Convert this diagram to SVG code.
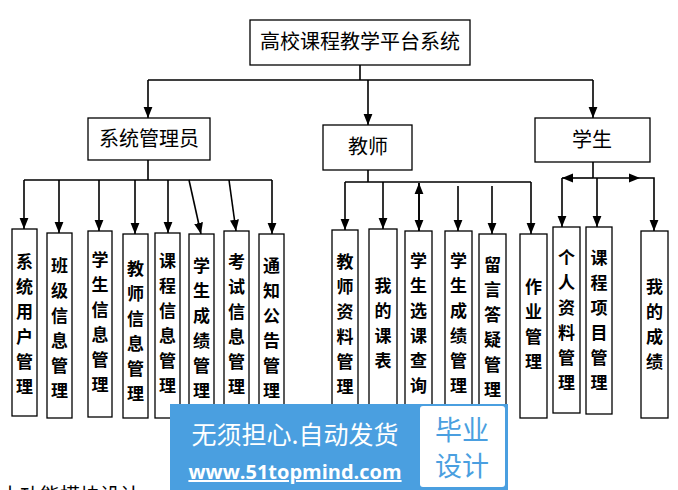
<svg xmlns="http://www.w3.org/2000/svg" width="678" height="490" viewBox="0 0 678 490">
<style>
.b{fill:#fff;stroke:#000;stroke-width:1.3}
.t{font-family:"Liberation Serif","Noto Sans CJK SC",serif;font-size:17px;font-weight:bold;text-anchor:middle;fill:#000}
.h{font-family:"Liberation Serif","Noto Sans CJK SC",serif;font-size:20px;text-anchor:middle;fill:#000}
.c{fill:none;stroke:#000;stroke-width:1.6}
</style>
<defs><marker id="a" viewBox="0 0 10 10" refX="10" refY="5" markerWidth="7" markerHeight="7" orient="auto"><path d="M0,1L10,5L0,9z" fill="#000"/></marker></defs>
<rect width="678" height="490" fill="#fff"/>
<g id="connectors">
<path class="c" d="M360 65V80M148 80H593"/>
<path class="c" d="M148 80V118" marker-end="url(#a)"/>
<path class="c" d="M368 80V125" marker-end="url(#a)"/>
<path class="c" d="M593 80V118" marker-end="url(#a)"/>
<path class="c" d="M148 160V180M24 180H272"/>
<path class="c" d="M24 180V229" marker-end="url(#a)"/>
<path class="c" d="M59 180V233" marker-end="url(#a)"/>
<path class="c" d="M99 180V231" marker-end="url(#a)"/>
<path class="c" d="M135 180V234" marker-end="url(#a)"/>
<path class="c" d="M168 180V233" marker-end="url(#a)"/>
<path class="c" d="M189 180L201 234" marker-end="url(#a)"/>
<path class="c" d="M229 180L236 231" marker-end="url(#a)"/>
<path class="c" d="M272 180V234" marker-end="url(#a)"/>
<path class="c" d="M368 170V182M345 182H531"/>
<path class="c" d="M345 182V230" marker-end="url(#a)"/>
<path class="c" d="M383 182V229" marker-end="url(#a)"/>
<path class="c" d="M419 231V183" marker-end="url(#a)"/>
<path class="c" d="M419 183V231" marker-end="url(#a)"/>
<path class="c" d="M458 186V231" marker-end="url(#a)"/>
<path class="c" d="M492 186V234" marker-end="url(#a)"/>
<path class="c" d="M531 182V234" marker-end="url(#a)"/>
<path class="c" d="M593 162V178"/>
<path class="c" d="M593 178H562" marker-end="url(#a)"/>
<path class="c" d="M593 178H640" marker-end="url(#a)"/>
<path class="c" d="M562 178V227" marker-end="url(#a)"/>
<path class="c" d="M597 178V227" marker-end="url(#a)"/>
<path class="c" d="M640 178H654V231" marker-end="url(#a)"/>
</g>
<g id="root"><rect class="b" x="250" y="20" width="220" height="45"/><text class="h" x="360" y="49">高校课程教学平台系统</text></g>
<g id="admin"><rect class="b" x="88" y="118" width="122" height="42"/><text class="h" x="149" y="146">系统管理员</text></g>
<g id="teacher"><rect class="b" x="323" y="125" width="89" height="45"/><text class="h" x="368" y="154">教师</text></g>
<g id="student"><rect class="b" x="535" y="118" width="115" height="44"/><text class="h" x="592" y="147">学生</text></g>
<g id="n1"><rect class="b" x="12" y="229" width="25" height="187"/><text class="t" x="24.5" y="268"><tspan x="24.5">系</tspan><tspan x="24.5" dy="25">统</tspan><tspan x="24.5" dy="25">用</tspan><tspan x="24.5" dy="25">户</tspan><tspan x="24.5" dy="25">管</tspan><tspan x="24.5" dy="25">理</tspan></text></g>
<g id="n2"><rect class="b" x="47" y="233" width="25" height="185"/><text class="t" x="59.5" y="272"><tspan x="59.5">班</tspan><tspan x="59.5" dy="25">级</tspan><tspan x="59.5" dy="25">信</tspan><tspan x="59.5" dy="25">息</tspan><tspan x="59.5" dy="25">管</tspan><tspan x="59.5" dy="25">理</tspan></text></g>
<g id="n3"><rect class="b" x="88" y="231" width="24" height="186"/><text class="t" x="100" y="266"><tspan x="100">学</tspan><tspan x="100" dy="25">生</tspan><tspan x="100" dy="25">信</tspan><tspan x="100" dy="25">息</tspan><tspan x="100" dy="25">管</tspan><tspan x="100" dy="25">理</tspan></text></g>
<g id="n4"><rect class="b" x="123" y="234" width="25" height="184"/><text class="t" x="135.5" y="275"><tspan x="135.5">教</tspan><tspan x="135.5" dy="25">师</tspan><tspan x="135.5" dy="25">信</tspan><tspan x="135.5" dy="25">息</tspan><tspan x="135.5" dy="25">管</tspan><tspan x="135.5" dy="25">理</tspan></text></g>
<g id="n5"><rect class="b" x="155" y="233" width="25" height="185"/><text class="t" x="167.5" y="267"><tspan x="167.5">课</tspan><tspan x="167.5" dy="25">程</tspan><tspan x="167.5" dy="25">信</tspan><tspan x="167.5" dy="25">息</tspan><tspan x="167.5" dy="25">管</tspan><tspan x="167.5" dy="25">理</tspan></text></g>
<g id="n6"><rect class="b" x="189" y="234" width="25" height="184"/><text class="t" x="201.5" y="272"><tspan x="201.5">学</tspan><tspan x="201.5" dy="25">生</tspan><tspan x="201.5" dy="25">成</tspan><tspan x="201.5" dy="25">绩</tspan><tspan x="201.5" dy="25">管</tspan><tspan x="201.5" dy="25">理</tspan></text></g>
<g id="n7"><rect class="b" x="224" y="231" width="25" height="187"/><text class="t" x="236.5" y="268"><tspan x="236.5">考</tspan><tspan x="236.5" dy="25">试</tspan><tspan x="236.5" dy="25">信</tspan><tspan x="236.5" dy="25">息</tspan><tspan x="236.5" dy="25">管</tspan><tspan x="236.5" dy="25">理</tspan></text></g>
<g id="n8"><rect class="b" x="259" y="234" width="25" height="184"/><text class="t" x="271.5" y="272"><tspan x="271.5">通</tspan><tspan x="271.5" dy="25">知</tspan><tspan x="271.5" dy="25">公</tspan><tspan x="271.5" dy="25">告</tspan><tspan x="271.5" dy="25">管</tspan><tspan x="271.5" dy="25">理</tspan></text></g>
<g id="t1"><rect class="b" x="332" y="230" width="26" height="188"/><text class="t" x="345" y="268"><tspan x="345">教</tspan><tspan x="345" dy="25">师</tspan><tspan x="345" dy="25">资</tspan><tspan x="345" dy="25">料</tspan><tspan x="345" dy="25">管</tspan><tspan x="345" dy="25">理</tspan></text></g>
<g id="t2"><rect class="b" x="369" y="229" width="28" height="189"/><text class="t" x="383" y="292"><tspan x="383">我</tspan><tspan x="383" dy="25">的</tspan><tspan x="383" dy="25">课</tspan><tspan x="383" dy="25">表</tspan></text></g>
<g id="t3"><rect class="b" x="405" y="231" width="27" height="187"/><text class="t" x="418.5" y="267"><tspan x="418.5">学</tspan><tspan x="418.5" dy="25">生</tspan><tspan x="418.5" dy="25">选</tspan><tspan x="418.5" dy="25">课</tspan><tspan x="418.5" dy="25">查</tspan><tspan x="418.5" dy="25">询</tspan></text></g>
<g id="t4"><rect class="b" x="445" y="231" width="27" height="187"/><text class="t" x="458.5" y="267"><tspan x="458.5">学</tspan><tspan x="458.5" dy="25">生</tspan><tspan x="458.5" dy="25">成</tspan><tspan x="458.5" dy="25">绩</tspan><tspan x="458.5" dy="25">管</tspan><tspan x="458.5" dy="25">理</tspan></text></g>
<g id="t5"><rect class="b" x="479" y="234" width="27" height="184"/><text class="t" x="492.5" y="271"><tspan x="492.5">留</tspan><tspan x="492.5" dy="25">言</tspan><tspan x="492.5" dy="25">答</tspan><tspan x="492.5" dy="25">疑</tspan><tspan x="492.5" dy="25">管</tspan><tspan x="492.5" dy="25">理</tspan></text></g>
<g id="t6"><rect class="b" x="520" y="234" width="27" height="184"/><text class="t" x="533.5" y="293"><tspan x="533.5">作</tspan><tspan x="533.5" dy="25">业</tspan><tspan x="533.5" dy="25">管</tspan><tspan x="533.5" dy="25">理</tspan></text></g>
<g id="s1"><rect class="b" x="553" y="227" width="27" height="186"/><text class="t" x="566.5" y="264"><tspan x="566.5">个</tspan><tspan x="566.5" dy="25">人</tspan><tspan x="566.5" dy="25">资</tspan><tspan x="566.5" dy="25">料</tspan><tspan x="566.5" dy="25">管</tspan><tspan x="566.5" dy="25">理</tspan></text></g>
<g id="s2"><rect class="b" x="586" y="227" width="26" height="187"/><text class="t" x="599" y="264"><tspan x="599">课</tspan><tspan x="599" dy="25">程</tspan><tspan x="599" dy="25">项</tspan><tspan x="599" dy="25">目</tspan><tspan x="599" dy="25">管</tspan><tspan x="599" dy="25">理</tspan></text></g>
<g id="s3"><rect class="b" x="641" y="231" width="27" height="187"/><text class="t" x="654.5" y="293"><tspan x="654.5">我</tspan><tspan x="654.5" dy="25">的</tspan><tspan x="654.5" dy="25">成</tspan><tspan x="654.5" dy="25">绩</tspan></text></g>
<text x="0" y="503" style="font-family:'Noto Sans CJK SC',sans-serif;font-size:20px;fill:#000">本功能模块设计</text>
<g id="watermark">
<rect x="170" y="404" width="338" height="86" fill="#4a9fe0"/>
<rect x="420" y="406" width="85" height="81" rx="3" fill="#fff"/>
<text x="295" y="444" style="font-family:'Noto Sans CJK SC',sans-serif;font-size:25px;fill:#fff;text-anchor:middle">无须担心.自动发货</text>
<text x="295" y="479" style="font-family:'Open Sans',sans-serif;font-size:20px;font-weight:bold;fill:#fff;text-anchor:middle;text-decoration:underline">www.51topmind.com</text>
<text x="462" y="440" style="font-family:'Noto Sans CJK SC',sans-serif;font-size:27px;fill:#4a9fe0;text-anchor:middle">毕业</text>
<text x="462" y="476" style="font-family:'Noto Sans CJK SC',sans-serif;font-size:27px;fill:#4a9fe0;text-anchor:middle">设计</text>
</g>
</svg>
